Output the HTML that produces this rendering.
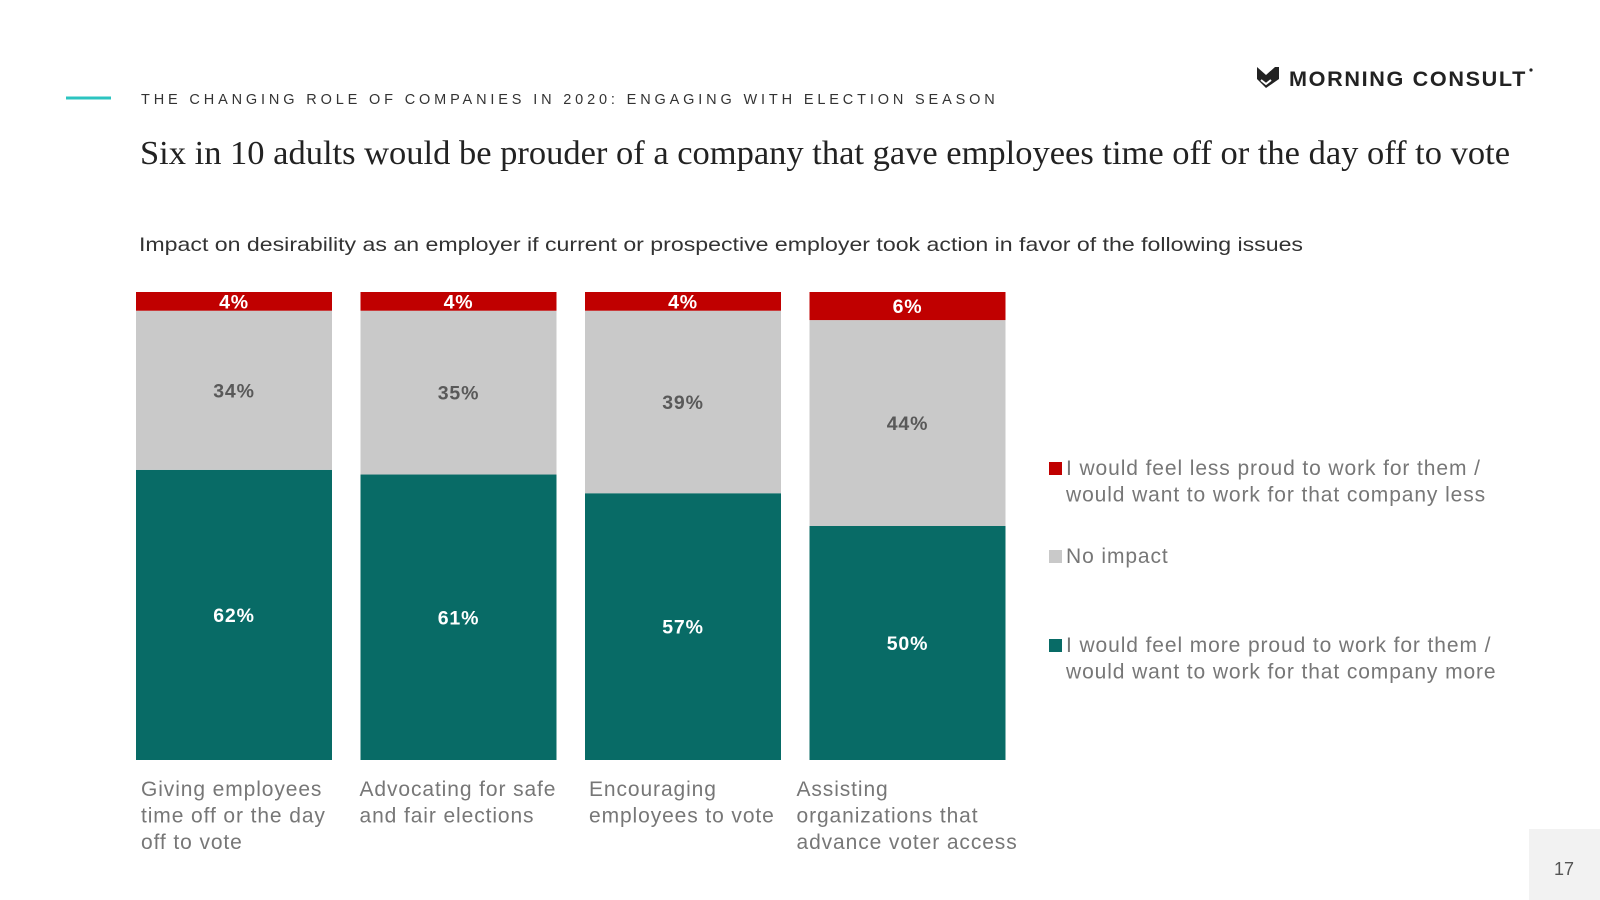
<!DOCTYPE html>
<html><head><meta charset="utf-8"><style>
html,body{margin:0;padding:0;background:#fff;}
svg{display:block;font-family:"Liberation Sans",sans-serif;}
</style></head><body>
<svg width="1600" height="900" viewBox="0 0 1600 900">
<line x1="66" y1="98" x2="111" y2="98" stroke="#2cc4c0" stroke-width="3"/>
<text x="141" y="104" font-size="14.5" letter-spacing="3.85" fill="#333">THE CHANGING ROLE OF COMPANIES IN 2020: ENGAGING WITH ELECTION SEASON</text>
<g>
<path d="M1257 67 L1266 75 L1275 67 L1279 67 L1279 79 L1266 88 L1257 79 Z" fill="#222"/>
<path d="M1261 80 L1266 84 L1271 80" fill="none" stroke="#fff" stroke-width="2"/>
<text x="1289" y="86" font-size="21" font-weight="bold" letter-spacing="1.6" fill="#222" textLength="238" lengthAdjust="spacingAndGlyphs">MORNING CONSULT</text>
<circle cx="1531" cy="70" r="1.6" fill="#222"/>
</g>
<text x="140" y="164" font-family="Liberation Serif, serif" font-size="34" fill="#222" textLength="1370" lengthAdjust="spacingAndGlyphs">Six in 10 adults would be prouder of a company that gave employees time off or the day off to vote</text>
<text x="139" y="251" font-size="19.5" fill="#333" textLength="1164" lengthAdjust="spacingAndGlyphs">Impact on desirability as an employer if current or prospective employer took action in favor of the following issues</text>
<g id="bars"></g>
<g font-size="21" letter-spacing="0.9" fill="#777">
<rect x="1049" y="462" width="13" height="13" fill="#c00000"/>
<text x="1066" y="475"><tspan>I would feel less proud to work for them /</tspan><tspan x="1066" dy="26.5">would want to work for that company less</tspan></text>
<rect x="1049" y="550" width="13" height="13" fill="#c9c9c9"/>
<text x="1066" y="563">No impact</text>
<rect x="1049" y="639" width="13" height="13" fill="#086b66"/>
<text x="1066" y="652"><tspan>I would feel more proud to work for them /</tspan><tspan x="1066" dy="26.5">would want to work for that company more</tspan></text>
</g>
<rect x="1529" y="829" width="71" height="71" fill="#f2f2f2"/>
<text x="1564" y="875" font-size="18" fill="#555" text-anchor="middle">17</text>
</svg>
<script>
const categories = [
 ["Giving employees","time off or the day","off to vote"],
 ["Advocating for safe","and fair elections"],
 ["Encouraging","employees to vote"],
 ["Assisting","organizations that","advance voter access"]
];
const moreProud = [62, 61, 57, 50];
const noImpact = [34, 35, 39, 44];
const lessProud = [4, 4, 4, 6];
const labelOffsets = [5, -1, 4, -13];

const NS = "http://www.w3.org/2000/svg";
const g = document.getElementById("bars");
const top0 = 292, bottom0 = 760, x0 = 136, step = 224.5, bw = 196;
function y(v){ return bottom0 - v/100*(bottom0-top0); }
function mk(tag, attrs){ const e=document.createElementNS(NS,tag); for(const k in attrs) e.setAttribute(k,attrs[k]); g.appendChild(e); return e; }
categories.forEach((cat,i)=>{
  const x = x0 + i*step;
  const segs = [[moreProud[i],"#086b66","#fff","more-proud"],[noImpact[i],"#c9c9c9","#595959","no-impact"],[lessProud[i],"#c00000","#fff","less-proud"]];
  let acc = 0;
  segs.forEach(s=>{
    const yt = y(acc+s[0]), yb = y(acc);
    const r = mk("rect",{x:x,y:yt,width:bw,height:yb-yt,fill:s[1]});
    
    
    const t = mk("text",{x:x+bw/2,y:(yt+yb)/2+7,"text-anchor":"middle","font-size":"19.5","font-weight":"bold","letter-spacing":"0.8",fill:s[2]});
    t.textContent = s[0] + "%";
    
    
    acc += s[0];
  });
  const lt = mk("text",{x:x+labelOffsets[i],y:796,"font-size":"21","letter-spacing":"0.9",fill:"#777"});
  
  
  cat.forEach((line,j)=>{
    const ts=document.createElementNS(NS,"tspan");
    ts.setAttribute("x",x+labelOffsets[i]);
    ts.setAttribute("dy", j===0?0:26.5);
    ts.textContent=line; lt.appendChild(ts);
  });
});
</script>
</body></html>
